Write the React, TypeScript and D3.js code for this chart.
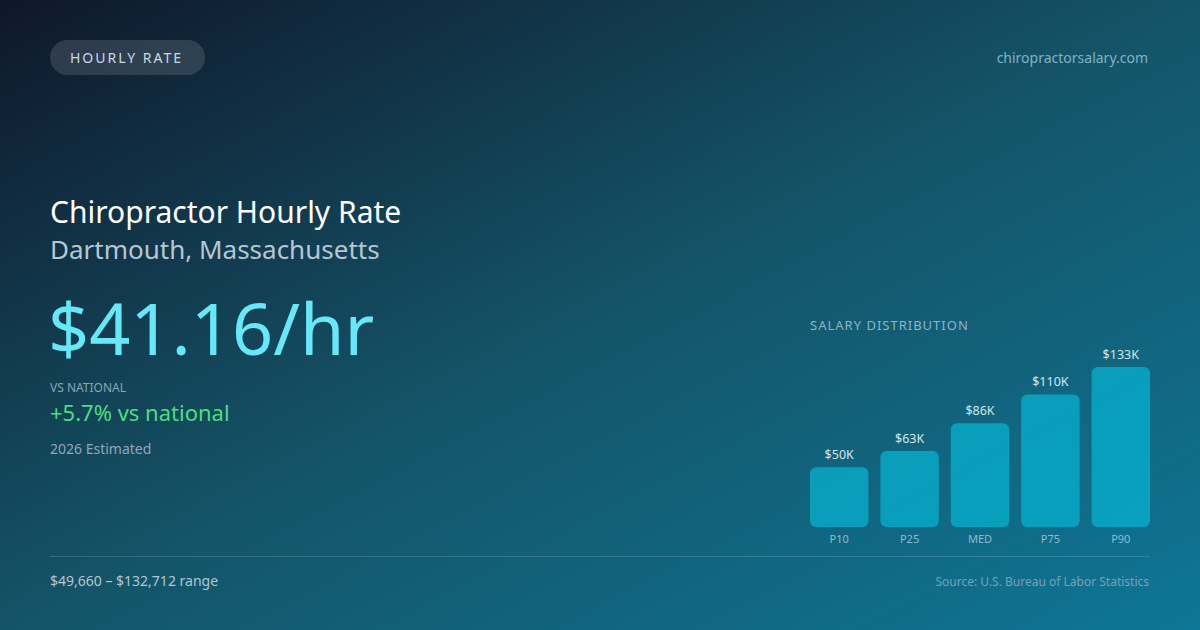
import React, { useEffect } from "react";
import * as d3 from "d3";

const W = 1200;
const H = 630;

// percentile labels and annual wages (USD)
const percentiles = ["P10", "P25", "MED", "P75", "P90"];
const wages = [49660, 63000, 86000, 110000, 132712];
const wageLabels = ["$50K", "$63K", "$86K", "$110K", "$133K"];

const FONT = "'Noto Sans', 'Open Sans', sans-serif";

const App: React.FC = () => {
  useEffect(() => {
    document.body.style.margin = "0";
  }, []);

  const x = d3
    .scaleBand<string>()
    .domain(percentiles)
    .range([810, 1150])
    .paddingInner(0.17)
    .paddingOuter(0);

  const y = d3
    .scaleLinear()
    .domain([0, d3.max(wages) ?? 0])
    .range([527, 367]);

  return (
    <svg width={W} height={H} viewBox={`0 0 ${W} ${H}`} style={{ display: "block", fontFamily: FONT }}>
      <defs>
        <linearGradient id="bg" x1="0" y1="0" x2="1" y2="1">
          <stop offset="0%" stopColor="#0f172a" />
          <stop offset="50%" stopColor="#145468" />
          <stop offset="100%" stopColor="#0e7696" />
        </linearGradient>
      </defs>
      <rect width={W} height={H} fill="url(#bg)" />

      {/* pill */}
      <rect x={50} y={40} width={155} height={35} rx={17.5} fill="rgba(255,255,255,0.13)" />
      <text x={70} y={62.5} fontSize={14} letterSpacing={2} fill="#cbd9e2">
        HOURLY RATE
      </text>
      <text x={1148} y={63} fontSize={14} fill="#7fb3c6" textAnchor="end">
        chiropractorsalary.com
      </text>

      {/* headline */}
      <text x={50} y={223} fontSize={30} fill="#ffffff">
        Chiropractor Hourly Rate
      </text>
      <text x={50} y={259} fontSize={26} fill="#b6c7d2">
        Dartmouth, Massachusetts
      </text>
      <text x={48} y={355} fontSize={72} fill="#67e8f9">
        $41.16/hr
      </text>
      <text x={50} y={392} fontSize={12} fill="#8aa6b6">
        VS NATIONAL
      </text>
      <text x={50} y={421} fontSize={22} fill="#4ade80">
        +5.7% vs national
      </text>
      <text x={50} y={454} fontSize={14} fill="#8fa8b8">
        2026 Estimated
      </text>

      {/* distribution */}
      <text x={810} y={330} fontSize={13} letterSpacing={1} fill="#8ab6c7">
        SALARY DISTRIBUTION
      </text>
      {percentiles.map((p, i) => {
        const bx = x(p) ?? 0;
        const top = y(wages[i]);
        return (
          <g key={p}>
            <rect
              x={bx}
              y={top}
              width={x.bandwidth()}
              height={y(0) - top}
              rx={6}
              fill="#06b6d4"
              fillOpacity={0.7}
            />
            <text x={bx + x.bandwidth() / 2} y={top - 8} fontSize={12.5} fill="#d3e6ee" textAnchor="middle">
              {wageLabels[i]}
            </text>
            <text x={bx + x.bandwidth() / 2} y={543} fontSize={11} fill="#8fbccc" textAnchor="middle">
              {p}
            </text>
          </g>
        );
      })}

      {/* footer */}
      <line x1={50} x2={1150} y1={556.5} y2={556.5} stroke="rgba(255,255,255,0.15)" />
      <text x={50} y={586} fontSize={14} fill="#b2c6d2">
        $49,660 – $132,712 range
      </text>
      <text x={1149} y={586} fontSize={12} fill="#75a3b6" textAnchor="end">
        Source: U.S. Bureau of Labor Statistics
      </text>
    </svg>
  );
};

export default App;
